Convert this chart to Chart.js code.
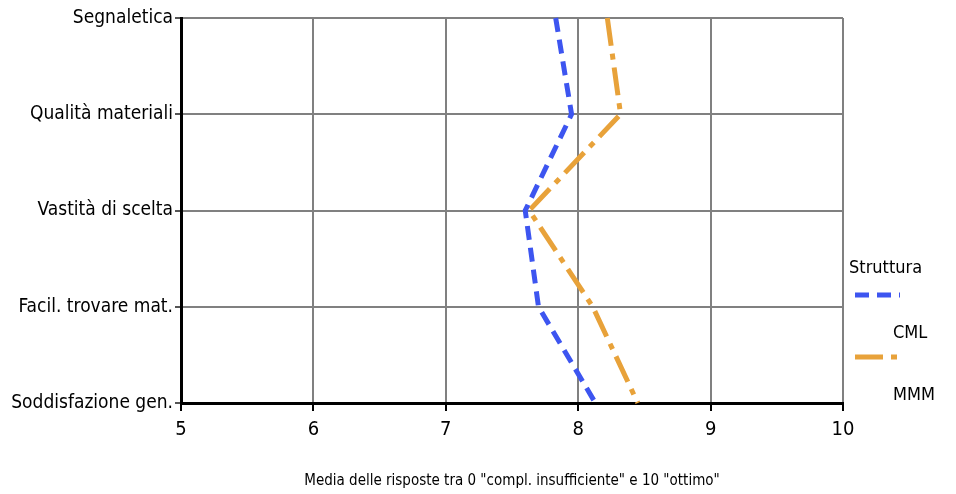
<!DOCTYPE html>
<html>
<head>
<meta charset="utf-8">
<script src="https://cdn.jsdelivr.net/npm/chart.js@4/dist/chart.umd.min.js"></script>
<style>
  body { margin: 0; background: #fff; }
  #wrap { width: 956px; height: 494px; }
</style>
</head>
<body>
<div id="wrap"><canvas id="chart" width="956" height="494"></canvas></div>
<script>
// Categories (top to bottom) and mean scores
const categories = ['Segnaletica', 'Qualità materiali', 'Vastità di scelta', 'Facil. trovare mat.', 'Soddisfazione gen.'];
const cmlValues = [7.83, 7.95, 7.60, 7.70, 8.13];
const mmmValues = [8.22, 8.32, 7.63, 8.11, 8.45];
const xTicks = [5, 6, 7, 8, 9, 10];
const legendTitle = 'Struttura';
const axisTitle = 'Media delle risposte tra 0 "compl. insufficiente" e 10 "ottimo"';

const FONT = '"Liberation Sans Narrow", "DejaVu Sans Condensed", "Roboto Condensed", sans-serif';

// Legend drawn by hand on the right side
const legendPlugin = {
  id: 'sideLegend',
  afterDraw(chart) {
    const ctx = chart.ctx;
    ctx.save();
    ctx.font = '18px ' + FONT;
    ctx.fillStyle = '#000';
    ctx.textBaseline = 'middle';
    ctx.textAlign = 'left';
    ctx.fillText(legendTitle, 849, 268);
    const rows = [{ y: 295, ty: 333 }, { y: 357, ty: 395 }];
    chart.data.datasets.forEach((ds, i) => {
      ctx.beginPath();
      ctx.strokeStyle = ds.borderColor;
      ctx.lineWidth = ds.borderWidth;
      ctx.setLineDash(ds.borderDash);
      ctx.moveTo(855, rows[i].y);
      ctx.lineTo(900, rows[i].y);
      ctx.stroke();
      ctx.setLineDash([]);
      ctx.fillText(ds.label, 893, rows[i].ty);
    });
    ctx.restore();
  }
};

new Chart(document.getElementById('chart'), {
  type: 'line',
  data: {
    labels: categories,
    datasets: [
      {
        label: 'CML',
        data: cmlValues,
        borderColor: '#3d55f0',
        borderWidth: 5,
        borderDash: [14, 8],
        pointRadius: 0,
        tension: 0
      },
      {
        label: 'MMM',
        data: mmmValues,
        borderColor: '#e8a23a',
        borderWidth: 5,
        borderDash: [28, 8, 6, 8],
        pointRadius: 0,
        tension: 0
      }
    ]
  },
  options: {
    responsive: false,
    animation: false,
    indexAxis: 'y',
    layout: { padding: { top: 18, right: 113, left: 0, bottom: 0 } },
    plugins: {
      legend: { display: false },
      tooltip: { enabled: false }
    },
    scales: {
      x: {
        type: 'linear',
        min: 5,
        max: 10,
        afterBuildTicks: (scale) => { scale.ticks = xTicks.map(v => ({ value: v })); },
        afterFit: (scale) => { scale.height = 91; },
        grid: { color: '#808080', lineWidth: 2, tickLength: 8, tickColor: '#000' },
        border: { color: '#000', width: 3 },
        ticks: { color: '#000', font: { size: 20, family: FONT }, padding: 7 },
        title: {
          display: true,
          text: axisTitle,
          color: '#000',
          font: { size: 15, family: FONT },
          padding: { top: 20 }
        }
      },
      y: {
        type: 'category',
        offset: false,
        afterFit: (scale) => { scale.width = 181; },
        grid: { color: '#808080', lineWidth: 2, tickLength: 6, tickColor: '#555' },
        border: { color: '#000', width: 3 },
        ticks: { color: '#000', font: { size: 19, family: FONT }, padding: 2 }
      }
    }
  },
  plugins: [legendPlugin]
});
</script>
</body>
</html>
